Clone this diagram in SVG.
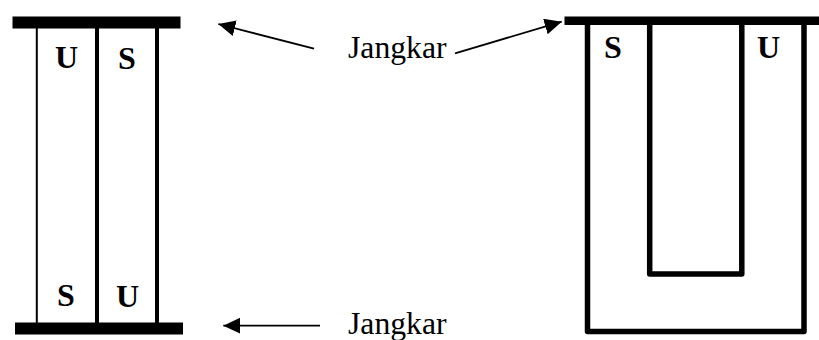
<svg xmlns="http://www.w3.org/2000/svg" width="819" height="340" viewBox="0 0 819 340">
<style>
.pole{font-family:"Liberation Serif","Times New Roman",serif;font-weight:bold;font-size:32px;fill:#000}
.lbl{font-family:"Liberation Serif","Times New Roman",serif;font-size:31.7px;fill:#000}
.bar{fill:#000}
.w{fill:none;stroke:#000;stroke-linejoin:round}
.c{stroke:#000;stroke-width:1.8;fill:none;marker-end:url(#ah)}
</style>
<defs>
<marker id="ah" markerUnits="userSpaceOnUse" markerWidth="18" markerHeight="18" refX="17" refY="8" orient="auto">
<path d="M0 0L17 8L0 16Z" fill="#000"/>
</marker>
</defs>
<rect width="819" height="340" fill="#fff"/>
<g id="magnet-left">
<rect class="bar" x="12.5" y="16.5" width="168" height="12"/>
<rect class="bar" x="15" y="322.5" width="168" height="12"/>
<path class="w" stroke-width="2" d="M36.8 28V323"/>
<path class="w" stroke-width="4" d="M97 28V323"/>
<path class="w" stroke-width="4" d="M157 28V323"/>
<text class="pole" x="55" y="68">U</text>
<text class="pole" x="118" y="69">S</text>
<text class="pole" x="57" y="306">S</text>
<text class="pole" x="116" y="307">U</text>
</g>
<g id="magnet-right">
<rect class="bar" x="564.5" y="16.5" width="254.5" height="8.5"/>
<path class="w" stroke-width="5.5" d="M587.5 24V331.5H804V24"/>
<path class="w" stroke-width="5.5" d="M649.7 24V274H741.8V24"/>
<text class="pole" x="604" y="58">S</text>
<text class="pole" x="757" y="58">U</text>
</g>
<g id="label-top"><text class="lbl" x="348" y="58">Jangkar</text></g>
<g id="label-bottom"><text class="lbl" x="348" y="334">Jangkar</text></g>
<g id="connectors">
<line class="c" x1="314" y1="48.7" x2="218.3" y2="24"/>
<line class="c" x1="455" y1="53.3" x2="561.7" y2="21.7"/>
<line class="c" x1="320" y1="325.7" x2="223.3" y2="325.7"/>
</g>
</svg>
